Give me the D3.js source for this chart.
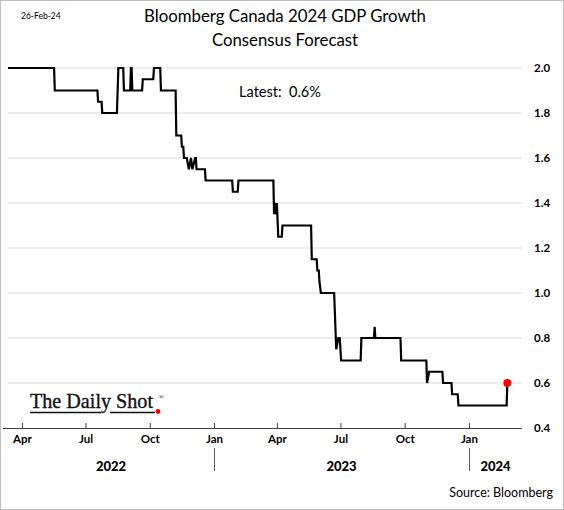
<!DOCTYPE html>
<html>
<head>
<meta charset="utf-8">
<script src="https://cdn.jsdelivr.net/npm/d3@7"></script>
<style>
  html, body { margin: 0; padding: 0; background: #fff; }
  svg { display: block; }
</style>
</head>
<body>
<script>
// ---- data (observations, joined by straight segments) ----
const dates = [
  "2022-03-12","2022-05-17","2022-05-18","2022-07-18","2022-07-19","2022-07-24",
  "2022-07-25","2022-08-15","2022-08-17","2022-08-24","2022-08-25","2022-09-03",
  "2022-09-04","2022-09-05","2022-09-06","2022-09-20","2022-09-21","2022-10-06",
  "2022-10-07","2022-10-16","2022-10-17","2022-11-07","2022-11-08","2022-11-15",
  "2022-11-16","2022-11-18","2022-11-19","2022-11-23","2022-11-26","2022-11-29",
  "2022-12-01","2022-12-05","2022-12-06","2022-12-07","2022-12-19","2022-12-20",
  "2023-01-27","2023-01-28","2023-02-04","2023-02-05","2023-03-27","2023-03-28",
  "2023-03-29","2023-03-31","2023-04-01","2023-04-03","2023-04-08","2023-04-09",
  "2023-05-20","2023-05-21","2023-05-28","2023-05-29","2023-05-31","2023-06-01",
  "2023-06-03","2023-06-22","2023-06-25","2023-06-28","2023-06-30","2023-07-02",
  "2023-07-30","2023-07-31","2023-08-18","2023-08-19","2023-08-20","2023-09-25",
  "2023-09-26","2023-11-01","2023-11-02","2023-11-05","2023-11-24","2023-11-25",
  "2023-12-07","2023-12-08","2023-12-16","2023-12-17","2024-02-24","2024-02-25"
];
const values = [
  2.0,2.0,1.9,1.9,1.85,1.85,
  1.8,1.8,2.0,2.0,1.9,1.9,
  2.0,2.0,1.9,1.9,1.95,1.95,
  2.0,2.0,1.9,1.9,1.7,1.7,
  1.65,1.65,1.6,1.6,1.55,1.6,
  1.55,1.6,1.6,1.55,1.55,1.5,
  1.5,1.45,1.45,1.5,1.5,1.35,
  1.4,1.35,1.4,1.25,1.25,1.3,
  1.3,1.15,1.15,1.1,1.1,1.05,
  1.0,1.0,0.75,0.8,0.8,0.7,
  0.7,0.8,0.8,0.85,0.8,0.8,
  0.7,0.7,0.6,0.65,0.65,0.6,
  0.6,0.55,0.55,0.5,0.5,0.6
];
const yTicks = [0.4,0.6,0.8,1.0,1.2,1.4,1.6,1.8,2.0];
const monthTickDates = ["2022-04-01","2022-07-01","2022-10-01","2023-01-01","2023-04-01","2023-07-01","2023-10-01","2024-01-01"];
const monthTickLabels = ["Apr","Jul","Oct","Jan","Apr","Jul","Oct","Jan"];
const yearLabels = ["2022","2023","2024"];
const yearBounds = ["2022-03-12","2023-01-01","2024-01-01","2024-03-17"];
const latestText = "Latest:  0.6%";

// ---- setup ----
const W = 564, H = 510;
const parse = d3.utcParse("%Y-%m-%d");
const data = dates.map((d,i) => ({date: parse(d), value: values[i]}));

const svg = d3.select("body").append("svg").attr("width", W).attr("height", H);

svg.append("rect").attr("x",0.5).attr("y",0.5).attr("width",W-1).attr("height",H-1)
  .attr("fill","#fff").attr("stroke","#bfbfbf").attr("stroke-width",1);

const x = d3.scaleUtc().domain([parse("2022-03-12"), parse("2024-03-17")]).range([8, 522]);
const y = d3.scaleLinear().domain([0.4, 2.0]).range([428, 68]);

const font = "Lato, 'Open Sans', sans-serif";

// gridlines
svg.append("g").selectAll("line").data(yTicks.filter(v => v > 0.4)).join("line")
  .attr("x1", x.range()[0]).attr("x2", x.range()[1])
  .attr("y1", d => y(d)).attr("y2", d => y(d))
  .attr("stroke", "#d9d9d9").attr("stroke-width", 1);

// y axis on right
const yAxis = svg.append("g").attr("transform", `translate(${x.range()[1]},0)`)
  .call(d3.axisRight(y).tickValues(yTicks).tickSize(0).tickPadding(12).tickFormat(d3.format(".1f")));
yAxis.select(".domain").remove();
yAxis.selectAll("text").attr("font-family", font).attr("font-size", 11.5).attr("font-weight", "bold").attr("fill", "#000");

// x axis
const xAxis = svg.append("g").attr("transform", `translate(0,${y(0.4)})`)
  .call(d3.axisBottom(x).tickValues(monthTickDates.map(parse)).tickSize(-5).tickPadding(7)
    .tickFormat((d,i) => monthTickLabels[i]));
xAxis.select(".domain").attr("stroke", "#404040").attr("d", `M3,0.5H${x.range()[1]}`);
xAxis.selectAll(".tick line").attr("stroke", "#404040");
xAxis.selectAll("text").attr("font-family", font).attr("font-size", 11.5).attr("font-weight", "bold").attr("fill", "#000");

// year separators and labels
const yb = yearBounds.map(parse);
svg.append("g").selectAll("line").data([yb[1], yb[2]]).join("line")
  .attr("x1", d => Math.round(x(d)) + 0.5).attr("x2", d => Math.round(x(d)) + 0.5)
  .attr("y1", 448).attr("y2", 471).attr("stroke", "#595959").attr("stroke-width", 1);
svg.append("g").selectAll("text").data(yearLabels).join("text")
  .attr("x", (d,i) => (x(yb[i]) + x(yb[i+1])) / 2)
  .attr("y", 471).attr("text-anchor", "middle")
  .attr("font-family", font).attr("font-size", 13).attr("font-weight", "900").attr("fill", "#000")
  .text(d => d);

// line
const line = d3.line().x(d => x(d.date)).y(d => y(d.value));
svg.append("path").datum(data).attr("d", line)
  .attr("fill", "none").attr("stroke", "#000").attr("stroke-width", 2.2).attr("stroke-linejoin", "miter");

// last point
const last = data[data.length - 1];
svg.append("circle").attr("cx", x(last.date)).attr("cy", y(last.value)).attr("r", 4).attr("fill", "#f00");

// titles
svg.append("text").attr("x", 285).attr("y", 22).attr("text-anchor", "middle")
  .attr("font-family", font).attr("font-size", 16.8).attr("fill", "#000")
  .text("Bloomberg Canada 2024 GDP Growth");
svg.append("text").attr("x", 285).attr("y", 46).attr("text-anchor", "middle")
  .attr("font-family", font).attr("font-size", 16.8).attr("fill", "#000")
  .text("Consensus Forecast");
svg.append("text").attr("x", 21).attr("y", 19)
  .attr("font-family", font).attr("font-size", 8.5).attr("fill", "#000")
  .text("26-Feb-24");

svg.append("text").attr("x", 280).attr("y", 97).attr("text-anchor", "middle")
  .attr("xml:space", "preserve").style("white-space", "pre")
  .attr("font-family", font).attr("font-size", 14.5).attr("fill", "#000")
  .text(latestText);

svg.append("text").attr("x", 553).attr("y", 497).attr("text-anchor", "end")
  .attr("font-family", font).attr("font-size", 12.5).attr("fill", "#000")
  .text("Source: Bloomberg");

// logo
const logo = svg.append("g");
logo.append("text").attr("x", 30).attr("y", 408)
  .attr("font-family", "'Liberation Serif', 'DejaVu Serif', serif").attr("font-size", 21).attr("fill", "#111")
  .attr("stroke", "#111").attr("stroke-width", 0.35)
  .attr("textLength", 123).attr("lengthAdjust", "spacingAndGlyphs")
  .text("The Daily Shot");
logo.append("line").attr("x1", 30).attr("x2", 101).attr("y1", 412.5).attr("y2", 412.5).attr("stroke", "#111").attr("stroke-width", 1.6);
logo.append("line").attr("x1", 110).attr("x2", 155).attr("y1", 412.5).attr("y2", 412.5).attr("stroke", "#111").attr("stroke-width", 1.6);
logo.append("circle").attr("cx", 158).attr("cy", 411.5).attr("r", 2.4).attr("fill", "#e00");
logo.append("text").attr("x", 158.5).attr("y", 399)
  .attr("font-family", "'Liberation Serif', serif").attr("font-size", 7).attr("fill", "#111").text("®");
</script>
</body>
</html>
